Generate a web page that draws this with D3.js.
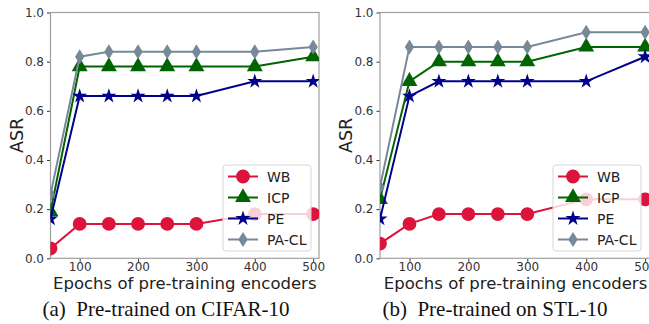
<!DOCTYPE html>
<html lang="en">
<head>
  <meta charset="UTF-8">
  <title>ASR vs pre-training epochs</title>
  <script src="https://d3js.org/d3.v7.min.js"></script>
  <style>
    body { margin: 0; background: #fff; }
    svg { display: block; }
    .tick text { font-family: "DejaVu Sans", sans-serif; font-size: 12px; fill: #333; }
    .axis-label { font-family: "DejaVu Sans", sans-serif; font-size: 16.5px; fill: #222; }
    .caption { font-family: "Liberation Serif", "Times New Roman", serif; font-size: 21px; fill: #111; }
    .legend text { font-family: "DejaVu Sans", sans-serif; font-size: 14px; fill: #222; }
  </style>
</head>
<body>
<div id="chart"></div>
<script>
  const width = 649, height = 324;

  const epochs = [50, 100, 150, 200, 250, 300, 400, 500];
  const xTicks = [100, 200, 300, 400, 500];
  const yTicks = [0, 0.2, 0.4, 0.6, 0.8, 1.0];
  const methods = ["WB", "ICP", "PE", "PA-CL"];

  // CIFAR-10
  const cifarWB   = [0.04, 0.14, 0.14, 0.14, 0.14, 0.14, 0.18, 0.18];
  const cifarICP  = [0.19, 0.78, 0.78, 0.78, 0.78, 0.78, 0.78, 0.82];
  const cifarPE   = [0.16, 0.66, 0.66, 0.66, 0.66, 0.66, 0.72, 0.72];
  const cifarPACL = [0.26, 0.82, 0.84, 0.84, 0.84, 0.84, 0.84, 0.86];

  // STL-10
  const stlWB   = [0.06, 0.14, 0.18, 0.18, 0.18, 0.18, 0.24, 0.24];
  const stlICP  = [0.24, 0.72, 0.80, 0.80, 0.80, 0.80, 0.86, 0.86];
  const stlPE   = [0.16, 0.66, 0.72, 0.72, 0.72, 0.72, 0.72, 0.82];
  const stlPACL = [0.29, 0.86, 0.86, 0.86, 0.86, 0.86, 0.92, 0.92];

  const colors = { "WB": "#dc143c", "ICP": "#006400", "PE": "#00008b", "PA-CL": "#778899" };

  // thin diamond like matplotlib 'd'
  const thinDiamond = {
    draw(context, size) {
      const h = Math.sqrt(size) * 0.75, w = h * 0.62;
      context.moveTo(0, -h);
      context.lineTo(w, 0);
      context.lineTo(0, h);
      context.lineTo(-w, 0);
      context.closePath();
    }
  };
  const symbols = {
    "WB": d3.symbol(d3.symbolCircle, 150),
    "ICP": d3.symbol(d3.symbolTriangle, 110),
    "PE": d3.symbol(d3.symbolStar, 70),
    "PA-CL": d3.symbol(thinDiamond, 100)
  };

  const svg = d3.select("#chart").append("svg")
    .attr("width", width)
    .attr("height", height);

  const panels = [
    { id: "a", left: 50.5, right: 319, caption: "(a)\u2002Pre-trained on CIFAR-10", capX: 166,
      series: [cifarWB, cifarICP, cifarPE, cifarPACL], legendX: 223 },
    { id: "b", left: 380, right: 651, caption: "(b)\u2002Pre-trained on STL-10", capX: 495,
      series: [stlWB, stlICP, stlPE, stlPACL], legendX: 553 }
  ];

  const plotTop = 12.5, plotBottom = 258.3;

  panels.forEach(p => {
    const x = d3.scaleLinear().domain([50, 510]).range([p.left, p.right]);
    const y = d3.scaleLinear().domain([0, 1]).range([plotBottom, plotTop]);
    const g = svg.append("g");

    g.append("clipPath").attr("id", "clip-" + p.id)
      .append("rect")
      .attr("x", p.left).attr("y", plotTop)
      .attr("width", p.right - p.left).attr("height", plotBottom - plotTop);

    // axes
    const xAxis = g.append("g")
      .attr("transform", `translate(0,${plotBottom})`)
      .call(d3.axisBottom(x).tickValues(xTicks).tickSize(3.5).tickPadding(1));
    const yAxis = g.append("g")
      .attr("transform", `translate(${p.left},0)`)
      .call(d3.axisLeft(y).tickValues(yTicks).tickSize(3.5).tickPadding(3).tickFormat(d3.format(".1f")));
    [xAxis, yAxis].forEach(a => {
      a.select(".domain").remove();
      a.selectAll(".tick line").attr("stroke", "#333");
    });

    // frame
    g.append("rect")
      .attr("x", p.left).attr("y", plotTop)
      .attr("width", p.right - p.left).attr("height", plotBottom - plotTop)
      .attr("fill", "none").attr("stroke", "#a0a0a0").attr("stroke-width", 1.2);

    const plot = g.append("g").attr("clip-path", `url(#clip-${p.id})`);
    const line = d3.line().x((d, i) => x(epochs[i])).y(d => y(d));

    methods.forEach((m, k) => {
      const vals = p.series[k];
      plot.append("path")
        .datum(vals)
        .attr("d", line)
        .attr("fill", "none")
        .attr("stroke", colors[m])
        .attr("stroke-width", 2);
      plot.selectAll(null)
        .data(vals)
        .enter().append("path")
        .attr("transform", (d, i) => `translate(${x(epochs[i])},${y(d)})`)
        .attr("d", symbols[m]())
        .attr("fill", colors[m]);
    });

    // legend
    const lg = g.append("g").attr("class", "legend");
    lg.append("rect")
      .attr("x", p.legendX).attr("y", 165)
      .attr("width", 88).attr("height", 86)
      .attr("rx", 3)
      .attr("fill", "#fff").attr("fill-opacity", 0.8)
      .attr("stroke", "#d6d6d6");
    methods.forEach((m, k) => {
      const ly = 176.5 + k * 21;
      lg.append("line")
        .attr("x1", p.legendX + 5).attr("x2", p.legendX + 35)
        .attr("y1", ly).attr("y2", ly)
        .attr("stroke", colors[m]).attr("stroke-width", 2);
      lg.append("path")
        .attr("transform", `translate(${p.legendX + 20},${ly})`)
        .attr("d", symbols[m]())
        .attr("fill", colors[m]);
      lg.append("text")
        .attr("x", p.legendX + 44).attr("y", ly)
        .attr("dy", "0.36em")
        .text(m);
    });

    // axis labels
    g.append("text")
      .attr("class", "axis-label")
      .style("font-size", "17.5px")
      .attr("text-anchor", "middle")
      .attr("transform", `translate(${p.left - 28},${(plotTop + plotBottom) / 2}) rotate(-90)`)
      .text("ASR");
    g.append("text")
      .attr("class", "axis-label")
      .attr("text-anchor", "middle")
      .attr("x", (p.left + p.right) / 2)
      .attr("y", 289)
      .text("Epochs of pre-training encoders");

    g.append("text")
      .attr("class", "caption")
      .attr("text-anchor", "middle")
      .attr("x", p.capX)
      .attr("y", 315.5)
      .text(p.caption);
  });
</script>
</body>
</html>
